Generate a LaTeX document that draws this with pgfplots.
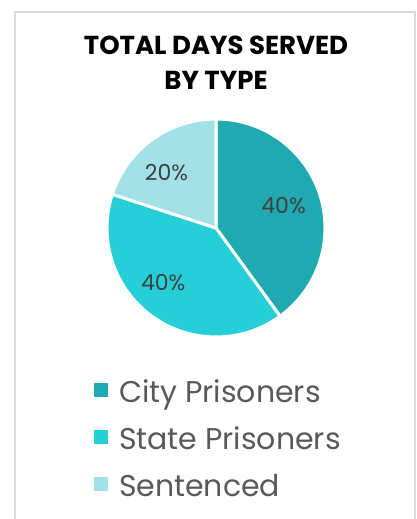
\documentclass[border=0pt]{standalone}
\usepackage{pgfplots}
\pgfplotsset{compat=1.18}
\usepackage{pgfplotstable}
\usepackage{fontspec}
\setmainfont{Poppins}

\definecolor{citycol}{RGB}{31,169,177}
\definecolor{statecol}{RGB}{38,206,215}
\definecolor{sentcol}{RGB}{162,225,230}
\definecolor{legcol}{RGB}{89,89,89}
\definecolor{pctcol}{RGB}{64,64,64}
\definecolor{framecol}{RGB}{217,217,217}

% share of total days served, in percent
\pgfplotstableread{
label value
City 40
State 40
Sentenced 20
}\piedata
\pgfplotstablegetelem{0}{value}\of\piedata \edef\va{\pgfplotsretval}
\pgfplotstablegetelem{1}{value}\of\piedata \edef\vb{\pgfplotsretval}
\pgfplotstablegetelem{2}{value}\of\piedata \edef\vc{\pgfplotsretval}
% slice angles, clockwise from 12 o'clock
\pgfmathsetmacro\aA{90}
\pgfmathsetmacro\aB{\aA-\va*3.6}
\pgfmathsetmacro\aC{\aB-\vb*3.6}
\pgfmathsetmacro\aD{\aC-\vc*3.6}
\pgfmathsetmacro\mA{(\aA+\aB)/2}
\pgfmathsetmacro\mB{(\aB+\aC)/2}
\pgfmathsetmacro\mC{(\aC+\aD)/2}

\begin{document}
\begin{tikzpicture}
\begin{axis}[
  width=417bp, height=519bp, scale only axis,
  xmin=0, xmax=417, ymin=0, ymax=519,
  hide axis, clip=false,
  legend cell align=left,
  legend image code/.code={\fill[#1] (0bp,-1.5bp) rectangle (14bp,12bp);},
  legend style={at={(axis cs:94,139)}, anchor=north west,
    draw=none, fill=none, inner sep=0pt, outer sep=0pt,
    row sep=16bp, text=legcol,
    font=\fontsize{30bp}{36bp}\selectfont,
    nodes={inner sep=0pt, text height=23bp, text depth=8bp}},
]
\addlegendimage{fill=citycol, draw=none}
\addlegendentry{\hspace{11bp}City Prisoners}
\addlegendimage{fill=statecol, draw=none}
\addlegendentry{\hspace{11bp}State Prisoners}
\addlegendimage{fill=sentcol, draw=none}
\addlegendentry{\hspace{11bp}Sentenced}

% chart frame (bottom edge lies outside the picture)
\draw[framecol, line width=1.3bp] (axis cs:15,-5) -- (axis cs:15,507)
  -- (axis cs:415,507) -- (axis cs:415,-5);

% title
\node[anchor=base, font=\fontsize{26bp}{30bp}\selectfont\bfseries]
  at (axis cs:216,464) {TOTAL DAYS SERVED};
\node[anchor=base, font=\fontsize{26bp}{30bp}\selectfont\bfseries]
  at (axis cs:216,429) {BY TYPE};

% slices
\filldraw[fill=citycol, draw=white, line width=3bp, line join=round]
  (axis cs:216,291) -- ++(\aA:109bp) arc[start angle=\aA, end angle=\aB, radius=109bp] -- cycle;
\filldraw[fill=statecol, draw=white, line width=3bp, line join=round]
  (axis cs:216,291) -- ++(\aB:109bp) arc[start angle=\aB, end angle=\aC, radius=109bp] -- cycle;
\filldraw[fill=sentcol, draw=white, line width=3bp, line join=round]
  (axis cs:216,291) -- ++(\aC:109bp) arc[start angle=\aC, end angle=\aD, radius=109bp] -- cycle;

% data labels
\path (axis cs:216,291) ++(\mA:71bp) node[text=pctcol, font=\fontsize{22bp}{26bp}\selectfont] {\va\%};
\path (axis cs:216,291) ++(\mB-8:76bp) node[text=pctcol, font=\fontsize{22bp}{26bp}\selectfont] {\vb\%};
\path (axis cs:216,291) ++(\mC+6:74bp) node[text=pctcol, font=\fontsize{22bp}{26bp}\selectfont] {\vc\%};
\end{axis}
\pgfresetboundingbox
\path[use as bounding box] (0,0) rectangle (417bp,519bp);
\end{tikzpicture}
\end{document}
